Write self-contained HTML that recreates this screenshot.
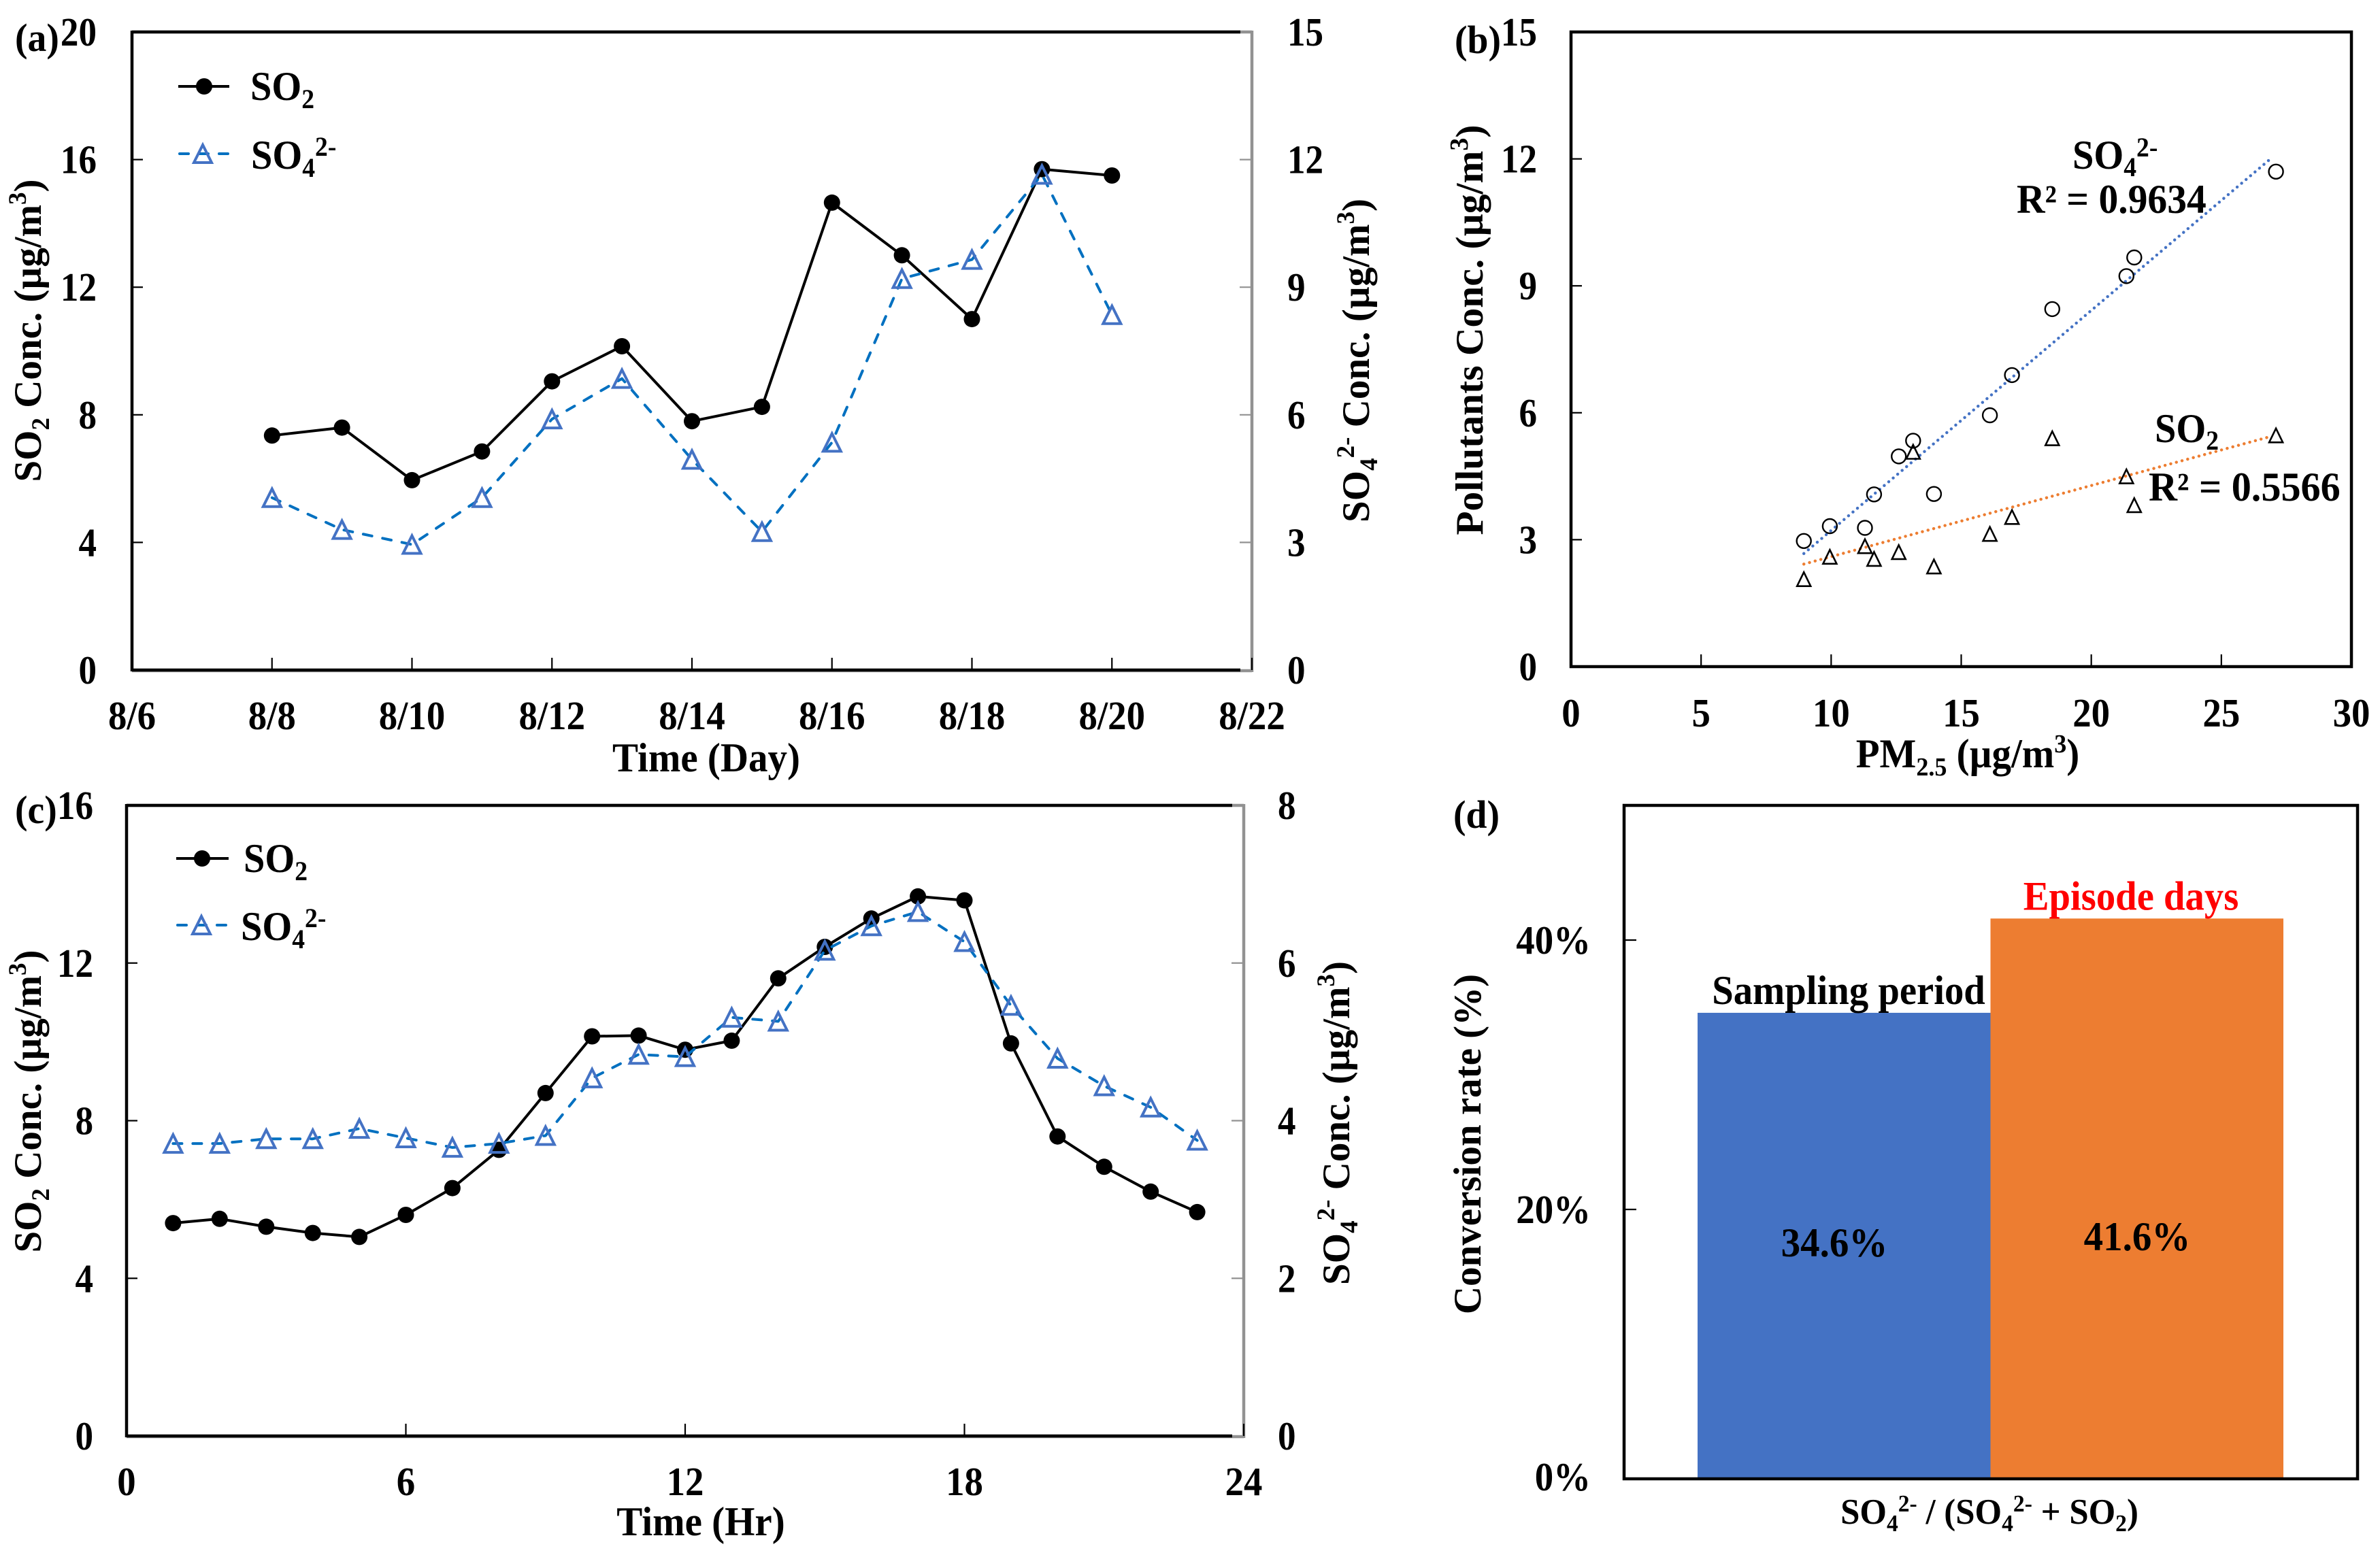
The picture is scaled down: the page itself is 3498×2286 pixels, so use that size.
<!DOCTYPE html>
<html lang="en">
<head>
<meta charset="utf-8">
<title>SO2 and sulfate concentration charts</title>
<style>
html,body{margin:0;padding:0;background:#fff;}
svg{display:block;font-family:"Liberation Serif",serif;font-weight:bold;}
</style>
</head>
<body>
<svg id="figure" xmlns="http://www.w3.org/2000/svg" width="3498" height="2286" viewBox="0 0 3498 2286">
<rect x="0" y="0" width="3498" height="2286" fill="#fff"/>

<g id="panel-a">
<text transform="translate(22 75) scale(.96 1)" font-size="58">(a)</text>
<text transform="translate(1038 1134) scale(.95 1)" font-size="60" text-anchor="middle">Time (Day)</text>
<text transform="translate(60 486) rotate(-90)" font-size="57" text-anchor="middle">SO<tspan font-size="37" dy="12">2</tspan><tspan dy="-12"> Conc. (µg/m</tspan><tspan font-size="37" dy="-22">3</tspan><tspan dy="22">)</tspan></text>
<text transform="translate(2012 530) rotate(-90)" font-size="57" text-anchor="middle">SO<tspan font-size="37" dy="12">4</tspan><tspan font-size="37" dy="-34">2-</tspan><tspan dy="22"> Conc. (µg/m</tspan><tspan font-size="37" dy="-22">3</tspan><tspan dy="22">)</tspan></text>
<g>
<line x1="262" y1="127" x2="337" y2="127" stroke="#000" stroke-width="4"/>
<circle cx="300" cy="127" r="12" fill="#000"/>
<text transform="translate(368 147) scale(.94 1)" font-size="60">SO<tspan font-size="40" dy="12">2</tspan></text>
<line x1="264" y1="226" x2="336" y2="226" stroke="#0070c0" stroke-width="4" stroke-linecap="round" stroke-dasharray="13 16"/>
<path d="M298 213 L311 239 L285 239 Z" fill="none" stroke="#4472c4" stroke-width="4"/>
<text transform="translate(369 248) scale(.94 1)" font-size="60">SO<tspan font-size="40" dy="12">4</tspan><tspan font-size="40" dy="-31">2-</tspan></text>
</g>
</g>

<g id="panel-b">
<text transform="translate(2138 78) scale(.96 1)" font-size="58">(b)</text>
<text transform="translate(2892 1128) scale(.95 1)" font-size="60" text-anchor="middle">PM<tspan font-size="38" dy="12">2.5</tspan><tspan dy="-12"> (µg/m</tspan><tspan font-size="38" dy="-22">3</tspan><tspan dy="22">)</tspan></text>
<text transform="translate(2179 485) rotate(-90)" font-size="57.5" text-anchor="middle">Pollutants Conc. (µg/m<tspan font-size="38" dy="-22">3</tspan><tspan dy="22">)</tspan></text>
<text transform="translate(3046 248) scale(.94 1)" font-size="60">SO<tspan font-size="40" dy="11">4</tspan><tspan font-size="40" dy="-29">2-</tspan></text>
<text transform="translate(2964 313) scale(.96 1)" font-size="60">R² = 0.9634</text>
<text transform="translate(3167 650) scale(.94 1)" font-size="60">SO<tspan font-size="40" dy="11">2</tspan></text>
<text transform="translate(3158 736) scale(.97 1)" font-size="60">R² = 0.5566</text>
</g>

<g id="panel-c">
<text transform="translate(22 1210) scale(.96 1)" font-size="58">(c)</text>
<text transform="translate(1030 2257) scale(.95 1)" font-size="60" text-anchor="middle">Time (Hr)</text>
<text transform="translate(60 1619) rotate(-90)" font-size="57" text-anchor="middle">SO<tspan font-size="37" dy="12">2</tspan><tspan dy="-12"> Conc. (µg/m</tspan><tspan font-size="37" dy="-22">3</tspan><tspan dy="22">)</tspan></text>
<text transform="translate(1983 1651) rotate(-90)" font-size="57" text-anchor="middle">SO<tspan font-size="37" dy="12">4</tspan><tspan font-size="37" dy="-34">2-</tspan><tspan dy="22"> Conc. (µg/m</tspan><tspan font-size="37" dy="-22">3</tspan><tspan dy="22">)</tspan></text>
<g>
<line x1="259" y1="1262" x2="336" y2="1262" stroke="#000" stroke-width="4"/>
<circle cx="297" cy="1262" r="12" fill="#000"/>
<text transform="translate(358 1282) scale(.94 1)" font-size="60">SO<tspan font-size="40" dy="12">2</tspan></text>
<line x1="261" y1="1360" x2="335" y2="1360" stroke="#0070c0" stroke-width="4" stroke-linecap="round" stroke-dasharray="13 16"/>
<path d="M296 1347 L309 1373 L283 1373 Z" fill="none" stroke="#4472c4" stroke-width="4"/>
<text transform="translate(354 1382) scale(.94 1)" font-size="60">SO<tspan font-size="40" dy="12">4</tspan><tspan font-size="40" dy="-31">2-</tspan></text>
</g>
</g>

<g id="panel-d">
<text transform="translate(2136 1217) scale(.96 1)" font-size="58">(d)</text>
<text transform="translate(2924 2240) scale(.96 1)" font-size="53" text-anchor="middle">SO<tspan font-size="35" dy="11">4</tspan><tspan font-size="35" dy="-29">2-</tspan><tspan dy="18"> / (SO</tspan><tspan font-size="35" dy="11">4</tspan><tspan font-size="35" dy="-29">2-</tspan><tspan dy="18"> + SO</tspan><tspan font-size="35" dy="11">2</tspan><tspan dy="-11">)</tspan></text>
<text transform="translate(2176 1682) rotate(-90)" font-size="57" text-anchor="middle">Conversion rate (%)</text>
</g>
</svg>

<script>
// Panel (a) daily series
const aDays = [8, 9, 10, 11, 12, 13, 14, 15, 16, 17, 18, 19, 20];
const aSo2 = [7.35, 7.6, 5.95, 6.85, 9.05, 10.15, 7.8, 8.25, 14.65, 13.0, 11.0, 15.7, 15.5];
const aSo4 = [4.05, 3.3, 2.95, 4.05, 5.9, 6.85, 4.95, 3.25, 5.35, 9.2, 9.65, 11.65, 8.35];
const aXTickDays = [6, 8, 10, 12, 14, 16, 18, 20, 22];
const aXTickLabels = ['8/6', '8/8', '8/10', '8/12', '8/14', '8/16', '8/18', '8/20', '8/22'];
const aLeftTicks = [0, 4, 8, 12, 16, 20];
const aRightTicks = [0, 3, 6, 9, 12, 15];

// Panel (b) scatter series
const bPm = [8.95, 9.95, 11.3, 11.65, 12.6, 13.15, 13.95, 16.1, 16.95, 18.5, 21.35, 21.65, 27.1];
const bSo4 = [2.97, 3.32, 3.28, 4.07, 4.97, 5.34, 4.08, 5.94, 6.89, 8.45, 9.23, 9.67, 11.7];
const bSo2 = [2.07, 2.6, 2.85, 2.55, 2.71, 5.08, 2.37, 3.14, 3.54, 5.4, 4.5, 3.82, 5.47];
const bXTicks = [0, 5, 10, 15, 20, 25, 30];
const bYTicks = [0, 3, 6, 9, 12, 15];

// Panel (c) hourly series
const cHours = [1, 2, 3, 4, 5, 6, 7, 8, 9, 10, 11, 12, 13, 14, 15, 16, 17, 18, 19, 20, 21, 22, 23];
const cSo2 = [5.4, 5.51, 5.31, 5.15, 5.05, 5.61, 6.29, 7.26, 8.7, 10.14, 10.16, 9.8, 10.03, 11.61, 12.41, 13.13, 13.69, 13.59, 9.96, 7.6, 6.83, 6.2, 5.68];
const cSo4 = [3.71, 3.71, 3.77, 3.77, 3.9, 3.78, 3.66, 3.71, 3.81, 4.54, 4.84, 4.81, 5.31, 5.26, 6.16, 6.47, 6.65, 6.27, 5.46, 4.79, 4.44, 4.17, 3.75];
const cXTicks = [0, 6, 12, 18, 24];
const cLeftTicks = [0, 4, 8, 12, 16];
const cRightTicks = [0, 2, 4, 6, 8];

// Panel (d) bars
const dCategories = ['Sampling period', 'Episode days'];
const dValues = [34.6, 41.6];
const dLabels = ['34.6%', '41.6%'];
const dYTicks = [0, 20, 40];

const NS = 'http://www.w3.org/2000/svg';
const GRAY = '#929292';
const BLUE = '#4472c4';
const LINEBLUE = '#0070c0';
const ORANGE = '#ed7d31';
const SERIES_DASH = '13 16';
const DOT_DASH = '0.1 8.5';

function mk(tag, attrs, parent) {
  const e = document.createElementNS(NS, tag);
  for (const k in attrs) e.setAttribute(k, attrs[k]);
  parent.appendChild(e);
  return e;
}
function linear(d0, d1, r0, r1) {
  return function (v) { return r0 + (v - d0) * (r1 - r0) / (d1 - d0); };
}
function seg(parent, x1, y1, x2, y2, color, w, name) {
  const e = mk('line', {x1: x1, y1: y1, x2: x2, y2: y2, stroke: color, 'stroke-width': w}, parent);
  
  
  return e;
}
function label(parent, x, y, str, size, sx, anchor, name, fill) {
  const e = mk('text', {transform: 'translate(' + x + ' ' + y + ') scale(' + sx + ' 1)', 'font-size': size, 'text-anchor': anchor, fill: fill || '#000'}, parent);
  e.textContent = str;
  
  
  return e;
}
function polyline(parent, xs, ys, sx, sy, color, w, dash, name) {
  const pts = xs.map(function (x, i) { return sx(x).toFixed(1) + ',' + sy(ys[i]).toFixed(1); }).join(' ');
  const e = mk('polyline', {points: pts, fill: 'none', stroke: color, 'stroke-width': w, 'stroke-linejoin': 'round'}, parent);
  if (dash) {
    e.setAttribute('stroke-dasharray', dash);
    e.setAttribute('stroke-linecap', 'round');
  }
  
  
  return e;
}
function dots(parent, xs, ys, sx, sy, r, name) {
  xs.forEach(function (x, i) {
    const e = mk('circle', {cx: sx(x).toFixed(1), cy: sy(ys[i]).toFixed(1), r: r, fill: '#000'}, parent);
    
    
  });
}
function rings(parent, xs, ys, sx, sy, r, name) {
  xs.forEach(function (x, i) {
    const e = mk('circle', {cx: sx(x).toFixed(1), cy: sy(ys[i]).toFixed(1), r: r, fill: 'none', stroke: '#000', 'stroke-width': 2.4}, parent);
    
    
  });
}
function triangles(parent, xs, ys, sx, sy, half, top, bottom, color, w, name) {
  xs.forEach(function (x, i) {
    const cx = sx(x), cy = sy(ys[i]);
    const d = 'M' + cx.toFixed(1) + ' ' + (cy - top).toFixed(1) + ' L' + (cx + half).toFixed(1) + ' ' + (cy + bottom).toFixed(1) + ' L' + (cx - half).toFixed(1) + ' ' + (cy + bottom).toFixed(1) + ' Z';
    const e = mk('path', {d: d, fill: 'none', stroke: color, 'stroke-width': w}, parent);
    
    
  });
}
function regressionLine(parent, xs, ys, sx, sy, color, name) {
  const n = xs.length;
  const mx = xs.reduce(function (a, b) { return a + b; }, 0) / n;
  const my = ys.reduce(function (a, b) { return a + b; }, 0) / n;
  let sxy = 0, sxx = 0;
  xs.forEach(function (x, i) { sxy += (x - mx) * (ys[i] - my); sxx += (x - mx) * (x - mx); });
  const m = sxy / sxx, c = my - m * mx;
  const lo = Math.min.apply(null, xs), hi = Math.max.apply(null, xs);
  const e = seg(parent, sx(lo), sy(m * lo + c), sx(hi) - 6, sy(m * (hi - 0.16) + c), color, 4.4, name);
  e.setAttribute('stroke-dasharray', DOT_DASH);
  e.setAttribute('stroke-linecap', 'round');
  return e;
}

function dualAxisPanel(g, box, sx, syL, syR, xVals, xLabels, leftTicks, rightTicks, tag, lx, rx, xBase) {
  seg(g, box.l, box.t, box.r, box.t, GRAY, 4.5, 'secondary-top-axis-line-' + tag);
  seg(g, box.l, box.b + 1, box.r, box.b + 1, GRAY, 4.5, 'secondary-bottom-axis-line-' + tag);
  seg(g, box.r, box.t - 2, box.r, box.b + 3, GRAY, 4.5, 'right-y-axis-line-' + tag);
  seg(g, box.l, box.t, box.r - 17, box.t, '#000', 4.5, 'top-axis-line-' + tag);
  seg(g, box.l, box.t - 2, box.l, box.b + 2, '#000', 4.5, 'left-y-axis-line-' + tag);
  seg(g, box.l, box.b, box.r - 17, box.b, '#000', 4.5, 'x-axis-line-' + tag);
  xVals.forEach(function (v, i) {
    if (i > 0) seg(g, sx(v), box.b, sx(v), box.b - 18, '#000', 2.2, 'x-tick-' + tag);
    label(g, sx(v), xBase, xLabels[i], 59, 0.93, 'middle', 'x-tick-label-' + tag);
  });
  leftTicks.forEach(function (v, i) {
    if (i > 0 && i < leftTicks.length - 1) seg(g, box.l, syL(v), box.l + 16, syL(v), '#000', 2.2, 'left-y-tick-' + tag);
    label(g, lx, syL(v) + 20, String(v), 59, 0.9, 'end', 'left-y-tick-label-' + tag);
  });
  rightTicks.forEach(function (v, i) {
    if (i > 0 && i < rightTicks.length - 1) seg(g, box.r, syR(v), box.r - 18, syR(v), GRAY, 2.2, 'right-y-tick-' + tag);
    label(g, rx, syR(v) + 20, String(v), 59, 0.9, 'start', 'right-y-tick-label-' + tag);
  });
}

/* Panel a */
(function () {
  const g = document.getElementById('panel-a');
  const box = {l: 194, r: 1840, t: 47, b: 985};
  const sx = linear(6, 22, box.l, box.r);
  const syL = linear(0, 20, box.b, box.t);
  const syR = linear(0, 15, box.b, box.t);
  dualAxisPanel(g, box, sx, syL, syR, aXTickDays, aXTickLabels, aLeftTicks, aRightTicks, 'a', 142, 1892, 1072);
  polyline(g, aDays, aSo2, sx, syL, '#000', 4, null, 'so2-line-a');
  dots(g, aDays, aSo2, sx, syL, 12, 'so2-point-a');
  polyline(g, aDays, aSo4, sx, syR, LINEBLUE, 4, SERIES_DASH, 'so4-line-a');
  triangles(g, aDays, aSo4, sx, syR, 13, 13, 13, BLUE, 4, 'so4-point-a');
})();

/* Panel b */
(function () {
  const g = document.getElementById('panel-b');
  const box = {l: 2309, r: 3456, t: 47, b: 980};
  const sx = linear(0, 30, box.l, box.r);
  const sy = linear(0, 15, box.b, box.t);
  const frame = mk('rect', {x: box.l, y: box.t, width: box.r - box.l, height: box.b - box.t, fill: 'none', stroke: '#000', 'stroke-width': 4.5}, g);
  
  
  bXTicks.forEach(function (v, i) {
    if (i > 0 && i < bXTicks.length - 1) seg(g, sx(v), box.b, sx(v), box.b - 18, '#000', 2.2, 'x-tick-b');
    label(g, sx(v), 1068, String(v), 59, 0.93, 'middle', 'x-tick-label-b');
  });
  bYTicks.forEach(function (v, i) {
    if (i > 0 && i < bYTicks.length - 1) seg(g, box.l, sy(v), box.l + 16, sy(v), '#000', 2.2, 'y-tick-b');
    label(g, 2259, sy(v) + 20, String(v), 59, 0.9, 'end', 'y-tick-label-b');
  });
  regressionLine(g, bPm, bSo4, sx, sy, BLUE, 'so4-trendline');
  regressionLine(g, bPm, bSo2, sx, sy, ORANGE, 'so2-trendline');
  rings(g, bPm, bSo4, sx, sy, 10.5, 'so4-point-b');
  triangles(g, bPm, bSo2, sx, sy, 10, 10, 10.5, '#000', 2.6, 'so2-point-b');
})();

/* Panel c */
(function () {
  const g = document.getElementById('panel-c');
  const box = {l: 186, r: 1828, t: 1184, b: 2111};
  const sx = linear(0, 24, box.l, box.r);
  const syL = linear(0, 16, box.b, box.t);
  const syR = linear(0, 8, box.b, box.t);
  dualAxisPanel(g, box, sx, syL, syR, cXTicks, cXTicks.map(String), cLeftTicks, cRightTicks, 'c', 137, 1878, 2198);
  polyline(g, cHours, cSo2, sx, syL, '#000', 4, null, 'so2-line-c');
  dots(g, cHours, cSo2, sx, syL, 12, 'so2-point-c');
  polyline(g, cHours, cSo4, sx, syR, LINEBLUE, 4, SERIES_DASH, 'so4-line-c');
  triangles(g, cHours, cSo4, sx, syR, 13, 13, 13, BLUE, 4, 'so4-point-c');
})();

/* Panel d */
(function () {
  const g = document.getElementById('panel-d');
  const box = {l: 2387, r: 3465, t: 1184, b: 2174};
  const sy = linear(0, 50, box.b, box.t);
  const barX = linear(0, dValues.length, 2495, 3356);
  const colors = [BLUE, ORANGE];
  const nameX = [2717, 3132];
  const valueX = [2696, 3141];
  const valueY = [1847, 1838];
  dValues.forEach(function (v, i) {
    const bar = mk('rect', {x: barX(i), y: sy(v), width: barX(i + 1) - barX(i), height: box.b - sy(v), fill: colors[i]}, g);
    
    
    label(g, nameX[i], sy(v) - 13, dCategories[i], 60, 0.945, 'middle', 'bar-category-label', i === 1 ? '#ff0000' : '#000');
    label(g, valueX[i], valueY[i], dLabels[i], 60, 0.95, 'middle', 'bar-value-label');
  });
  const frame = mk('rect', {x: box.l, y: box.t, width: box.r - box.l, height: box.b - box.t, fill: 'none', stroke: '#000', 'stroke-width': 4.5}, g);
  
  
  dYTicks.forEach(function (v, i) {
    if (i > 0) seg(g, box.l, sy(v), box.l + 18, sy(v), '#000', 2.2, 'y-tick-d');
    label(g, 2338, sy(v) + (i === 0 ? 17 : 20), v + '%', 59, 0.93, 'end', 'y-tick-label-d');
  });
})();
</script>
</body>
</html>
